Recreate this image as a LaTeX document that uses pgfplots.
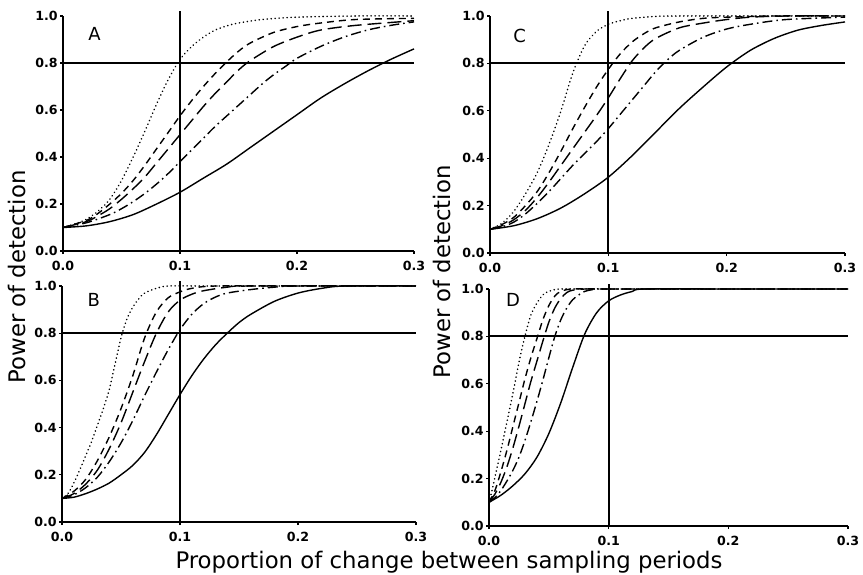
\documentclass[border=0pt]{standalone}
\usepackage{pgfplots}
\pgfplotsset{compat=1.18}
\usepackage{fontspec}
\setmainfont{DejaVu Sans}

% one px of the reference = 0.5pt here
\pgfplotsset{
  panel/.style={
    scale only axis, anchor=south west,
    xmin=0, xmax=0.3, ymin=0, ymax=1,
    axis lines*=left,
    axis line style={line width=1pt},
    xtick={0,0.1,0.2,0.3}, xticklabels={0.0,0.1,0.2,0.3},
    ytick={0,0.2,0.4,0.6,0.8,1.0}, yticklabels={0.0,0.2,0.4,0.6,0.8,1.0},
    tick label style={font=\fontsize{6.3}{7}\selectfont\bfseries},
    yticklabel style={inner sep=1pt},
    tick align=outside, major tick length=1.5pt,
    tick style={line width=0.6pt, black},
    clip=false,
  },
  pow/.style={line width=0.7pt, black, smooth, tension=0.5},
  c1/.style={pow, dash pattern=on 0.1pt off 1.9pt, line cap=round, line width=0.8pt},
  c2/.style={pow, dash pattern=on 3.5pt off 2.5pt},
  c3/.style={pow, dash pattern=on 7pt off 3pt},
  c4/.style={pow, dash pattern=on 5pt off 2pt on 0.8pt off 2pt},
  c5/.style={pow},
  refl/.style={line width=1pt, black},
}
\tikzset{lab/.style={font=\fontsize{9}{10}\selectfont}}

\begin{document}
\begin{tikzpicture}
\useasboundingbox (0,0) rectangle (431.5pt,287pt);

% ---------- A ----------
\begin{axis}[panel, at={(31.5pt,161.5pt)}, width=175.5pt, height=117.5pt]
\addplot[refl] coordinates {(0,0.8) (0.3,0.8)};
\addplot[refl] coordinates {(0.1,0) (0.1,1.02)};
\addplot[c1] coordinates {(0,0.10) (0.01,0.115) (0.02,0.135) (0.03,0.17) (0.04,0.22) (0.05,0.30) (0.06,0.40) (0.07,0.51) (0.08,0.625) (0.09,0.73) (0.1,0.815) (0.11,0.87) (0.12,0.91) (0.13,0.94) (0.14,0.958) (0.15,0.97) (0.17,0.985) (0.2,0.995) (0.25,1.0) (0.3,1.0)};
\addplot[c2] coordinates {(0,0.10) (0.02,0.13) (0.03,0.16) (0.04,0.20) (0.05,0.245) (0.06,0.30) (0.07,0.365) (0.08,0.435) (0.09,0.505) (0.1,0.575) (0.11,0.64) (0.12,0.70) (0.13,0.755) (0.14,0.805) (0.15,0.85) (0.16,0.885) (0.18,0.93) (0.2,0.955) (0.22,0.97) (0.25,0.985) (0.3,0.99)};
\addplot[c3] coordinates {(0,0.10) (0.02,0.125) (0.03,0.15) (0.04,0.18) (0.05,0.22) (0.06,0.265) (0.07,0.315) (0.08,0.375) (0.09,0.435) (0.1,0.495) (0.11,0.555) (0.12,0.615) (0.13,0.67) (0.14,0.72) (0.15,0.77) (0.16,0.81) (0.18,0.87) (0.2,0.91) (0.22,0.94) (0.25,0.96) (0.3,0.98)};
\addplot[c4] coordinates {(0,0.10) (0.02,0.12) (0.04,0.155) (0.05,0.18) (0.06,0.21) (0.07,0.245) (0.08,0.285) (0.09,0.33) (0.1,0.38) (0.11,0.43) (0.12,0.48) (0.13,0.53) (0.14,0.575) (0.15,0.62) (0.16,0.665) (0.17,0.71) (0.18,0.75) (0.19,0.785) (0.2,0.82) (0.22,0.87) (0.24,0.91) (0.26,0.94) (0.28,0.96) (0.3,0.975)};
\addplot[c5] coordinates {(0,0.10) (0.02,0.107) (0.04,0.125) (0.06,0.155) (0.08,0.20) (0.1,0.25) (0.12,0.31) (0.14,0.37) (0.16,0.44) (0.18,0.51) (0.2,0.58) (0.22,0.65) (0.24,0.71) (0.26,0.765) (0.28,0.815) (0.3,0.86)};
\node[lab] at (axis cs:0.027,0.925) {A};
\end{axis}

% ---------- B ----------
\begin{axis}[panel, at={(31pt,26pt)}, width=177pt, height=118pt]
\addplot[refl] coordinates {(0,0.8) (0.3,0.8)};
\addplot[refl] coordinates {(0.1,0) (0.1,1.02)};
\addplot[c1] coordinates {(0,0.10) (0.005,0.12) (0.01,0.165) (0.015,0.22) (0.02,0.28) (0.025,0.34) (0.03,0.41) (0.035,0.48) (0.04,0.56) (0.045,0.67) (0.05,0.78) (0.055,0.86) (0.06,0.91) (0.065,0.945) (0.07,0.97) (0.08,0.99) (0.09,1.0) (0.12,1.0) (0.2,1.0) (0.3,1.0)};
\addplot[c2] coordinates {(0,0.10) (0.01,0.13) (0.02,0.18) (0.03,0.26) (0.04,0.36) (0.05,0.48) (0.06,0.62) (0.07,0.78) (0.08,0.89) (0.09,0.95) (0.1,0.975) (0.11,0.99) (0.13,1.0) (0.2,1.0) (0.3,1.0)};
\addplot[c3] coordinates {(0,0.10) (0.01,0.12) (0.02,0.16) (0.03,0.22) (0.04,0.31) (0.05,0.42) (0.06,0.55) (0.07,0.68) (0.08,0.80) (0.09,0.89) (0.1,0.94) (0.11,0.965) (0.12,0.98) (0.14,0.995) (0.16,1.0) (0.3,1.0)};
\addplot[c4] coordinates {(0,0.10) (0.01,0.115) (0.02,0.145) (0.03,0.19) (0.04,0.255) (0.05,0.335) (0.06,0.43) (0.07,0.535) (0.08,0.635) (0.09,0.73) (0.1,0.815) (0.11,0.88) (0.12,0.925) (0.13,0.953) (0.14,0.97) (0.16,0.985) (0.18,0.995) (0.2,1.0) (0.3,1.0)};
\addplot[c5] coordinates {(0,0.10) (0.01,0.105) (0.02,0.12) (0.03,0.14) (0.04,0.165) (0.05,0.20) (0.06,0.24) (0.07,0.295) (0.08,0.37) (0.09,0.455) (0.1,0.54) (0.11,0.62) (0.12,0.69) (0.13,0.75) (0.14,0.80) (0.15,0.845) (0.16,0.88) (0.18,0.935) (0.2,0.97) (0.22,0.99) (0.24,1.0) (0.3,1.0)};
\node[lab] at (axis cs:0.027,0.943) {B};
\end{axis}

% ---------- C ----------
\begin{axis}[panel, at={(245pt,160.5pt)}, width=177.5pt, height=118.5pt]
\addplot[refl] coordinates {(0,0.8) (0.3,0.8)};
\addplot[refl] coordinates {(0.1,0) (0.1,1.02)};
\addplot[c1] coordinates {(0,0.10) (0.01,0.125) (0.02,0.175) (0.03,0.25) (0.04,0.34) (0.05,0.46) (0.06,0.60) (0.07,0.76) (0.08,0.875) (0.09,0.935) (0.1,0.965) (0.11,0.98) (0.12,0.99) (0.14,0.998) (0.16,1.0) (0.3,1.0)};
\addplot[c2] coordinates {(0,0.10) (0.01,0.12) (0.02,0.15) (0.03,0.20) (0.04,0.26) (0.05,0.34) (0.06,0.43) (0.07,0.525) (0.08,0.615) (0.09,0.70) (0.1,0.775) (0.11,0.84) (0.12,0.89) (0.13,0.925) (0.14,0.95) (0.16,0.975) (0.18,0.99) (0.2,0.995) (0.24,1.0) (0.3,1.0)};
\addplot[c3] coordinates {(0,0.10) (0.01,0.115) (0.02,0.14) (0.03,0.18) (0.04,0.235) (0.05,0.30) (0.06,0.37) (0.07,0.44) (0.08,0.51) (0.09,0.58) (0.1,0.655) (0.11,0.735) (0.12,0.81) (0.13,0.865) (0.14,0.905) (0.16,0.95) (0.18,0.97) (0.2,0.985) (0.22,0.995) (0.25,1.0) (0.3,1.0)};
\addplot[c4] coordinates {(0,0.10) (0.01,0.11) (0.02,0.13) (0.03,0.165) (0.04,0.21) (0.05,0.26) (0.06,0.315) (0.07,0.37) (0.08,0.42) (0.09,0.47) (0.1,0.525) (0.11,0.585) (0.12,0.645) (0.13,0.705) (0.14,0.765) (0.15,0.815) (0.16,0.855) (0.18,0.91) (0.2,0.945) (0.22,0.965) (0.25,0.985) (0.3,0.995)};
\addplot[c5] coordinates {(0,0.10) (0.02,0.115) (0.04,0.145) (0.06,0.19) (0.08,0.25) (0.1,0.32) (0.12,0.41) (0.14,0.51) (0.16,0.61) (0.18,0.70) (0.2,0.785) (0.22,0.855) (0.24,0.905) (0.26,0.94) (0.28,0.96) (0.3,0.975)};
\node[lab] at (axis cs:0.025,0.917) {C};
\end{axis}

% ---------- D ----------
\begin{axis}[panel, at={(244.5pt,24pt)}, width=179.5pt, height=118.5pt]
\addplot[refl] coordinates {(0,0.8) (0.3,0.8)};
\addplot[refl] coordinates {(0.1,0) (0.1,1.02)};
\addplot[c1] coordinates {(0,0.10) (0.003,0.16) (0.006,0.23) (0.01,0.32) (0.015,0.44) (0.02,0.56) (0.025,0.69) (0.03,0.80) (0.035,0.89) (0.04,0.94) (0.045,0.975) (0.05,0.99) (0.06,1.0) (0.1,1.0) (0.2,1.0) (0.3,1.0)};
\addplot[c2] coordinates {(0,0.10) (0.005,0.15) (0.01,0.23) (0.015,0.32) (0.02,0.42) (0.025,0.52) (0.03,0.62) (0.035,0.71) (0.04,0.79) (0.045,0.87) (0.05,0.93) (0.055,0.97) (0.06,0.99) (0.07,1.0) (0.1,1.0) (0.2,1.0) (0.3,1.0)};
\addplot[c3] coordinates {(0,0.10) (0.005,0.135) (0.01,0.185) (0.015,0.25) (0.02,0.33) (0.025,0.42) (0.03,0.515) (0.035,0.61) (0.04,0.695) (0.045,0.78) (0.05,0.86) (0.055,0.92) (0.06,0.96) (0.065,0.985) (0.07,0.995) (0.08,1.0) (0.1,1.0) (0.2,1.0) (0.3,1.0)};
\addplot[c4] coordinates {(0,0.10) (0.005,0.12) (0.01,0.15) (0.015,0.19) (0.02,0.235) (0.025,0.29) (0.03,0.36) (0.035,0.44) (0.04,0.525) (0.045,0.615) (0.05,0.71) (0.055,0.80) (0.06,0.87) (0.065,0.92) (0.07,0.955) (0.075,0.975) (0.08,0.99) (0.09,1.0) (0.1,1.0) (0.2,1.0) (0.3,1.0)};
\addplot[c5] coordinates {(0,0.10) (0.01,0.13) (0.02,0.17) (0.03,0.22) (0.04,0.29) (0.05,0.39) (0.06,0.52) (0.07,0.67) (0.08,0.81) (0.09,0.90) (0.1,0.95) (0.11,0.975) (0.12,0.99) (0.13,1.0) (0.2,1.0) (0.3,1.0)};
\node[lab] at (axis cs:0.02,0.953) {D};
\end{axis}

% shared axis titles
\node[rotate=90, anchor=base, font=\fontsize{11.4}{13}\selectfont] at (12.5pt,148.5pt) {Power of detection};
\node[rotate=90, anchor=base, font=\fontsize{11.4}{13}\selectfont] at (225pt,151pt) {Power of detection};
\node[anchor=base, font=\fontsize{11.4}{13}\selectfont] at (224.5pt,3pt) {Proportion of change between sampling periods};
\end{tikzpicture}
\end{document}
